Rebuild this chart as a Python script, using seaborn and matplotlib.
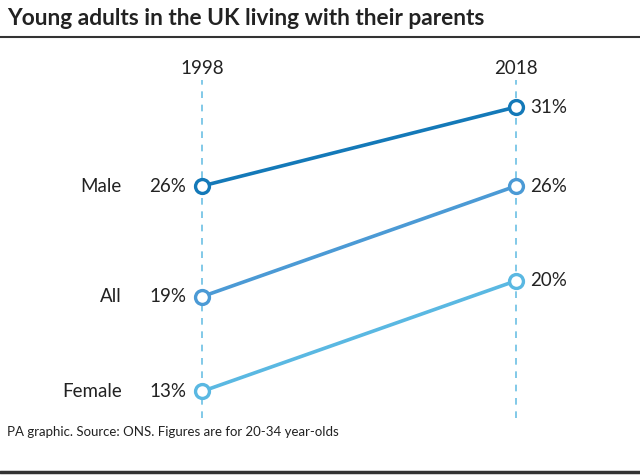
import numpy as np
import pandas as pd
import seaborn as sns
import matplotlib.pyplot as plt

# data
groups = ["Male", "All", "Female"]
years = ["1998", "2018"]
share_1998 = [26, 19, 13]
share_2018 = [31, 26, 20]
colours = ["#1479b8", "#4b9ad5", "#5ab8e2"]

df = pd.DataFrame({
    "group": groups * 2,
    "x": [0] * len(groups) + [1] * len(groups),
    "share": share_1998 + share_2018,
})

sns.set_style("white")
plt.rcParams["font.family"] = ["Lato", "DejaVu Sans"]

fig = plt.figure(figsize=(6.4, 4.75), dpi=100)
ax = fig.add_axes([0, 0, 1, 1])
ax.set_xlim(-202 / 314, 438 / 314)
ax.set_ylim(26 - 289 / 15.8, 26 + 186 / 15.8)
ax.axis("off")

# dashed guides for the two years
for xi in [0, 1]:
    ax.vlines(xi, 26 - 232 / 15.8, 26 + 106 / 15.8, color="#6cc0e4",
              linestyle=(0, (4, 4)), linewidth=1.2, zorder=1)

sns.lineplot(data=df, x="x", y="share", hue="group", palette=colours,
             hue_order=groups, linewidth=2.6, marker="o", markersize=10,
             markerfacecolor="white", markeredgewidth=2.4, legend=False,
             ax=ax, zorder=3)
for line, c in zip(ax.lines, colours):
    line.set_markeredgecolor(c)

txt = "#222222"
for g, a, b in zip(groups, share_1998, share_2018):
    ax.text(-0.255, a, g, ha="right", va="center", fontsize=13.5, color=txt)
    ax.text(-0.05, a, f"{a}%", ha="right", va="center", fontsize=13.5, color=txt)
    ax.text(1.045, b, f"{b}%", ha="left", va="center", fontsize=13.5, color=txt)

for xi, yr in enumerate(years):
    ax.text(xi, 26 + 118 / 15.8, yr, ha="center", va="center", fontsize=13.5, color=txt)

fig.text(0.011, 0.962, "Young adults in the UK living with their parents",
         ha="left", va="center", fontsize=16.4, fontweight="bold", color=txt)
fig.add_artist(plt.Line2D([0, 1], [1 - 37 / 475] * 2, color="#333333", linewidth=1.5))
fig.text(0.011, 1 - 432 / 475, "PA graphic. Source: ONS. Figures are for 20-34 year-olds",
         ha="left", va="center", fontsize=9.5, color=txt)
fig.add_artist(plt.Line2D([0, 1], [1 - 472 / 475] * 2, color="#333333", linewidth=2.5))

fig.savefig("out.png", dpi=100)
